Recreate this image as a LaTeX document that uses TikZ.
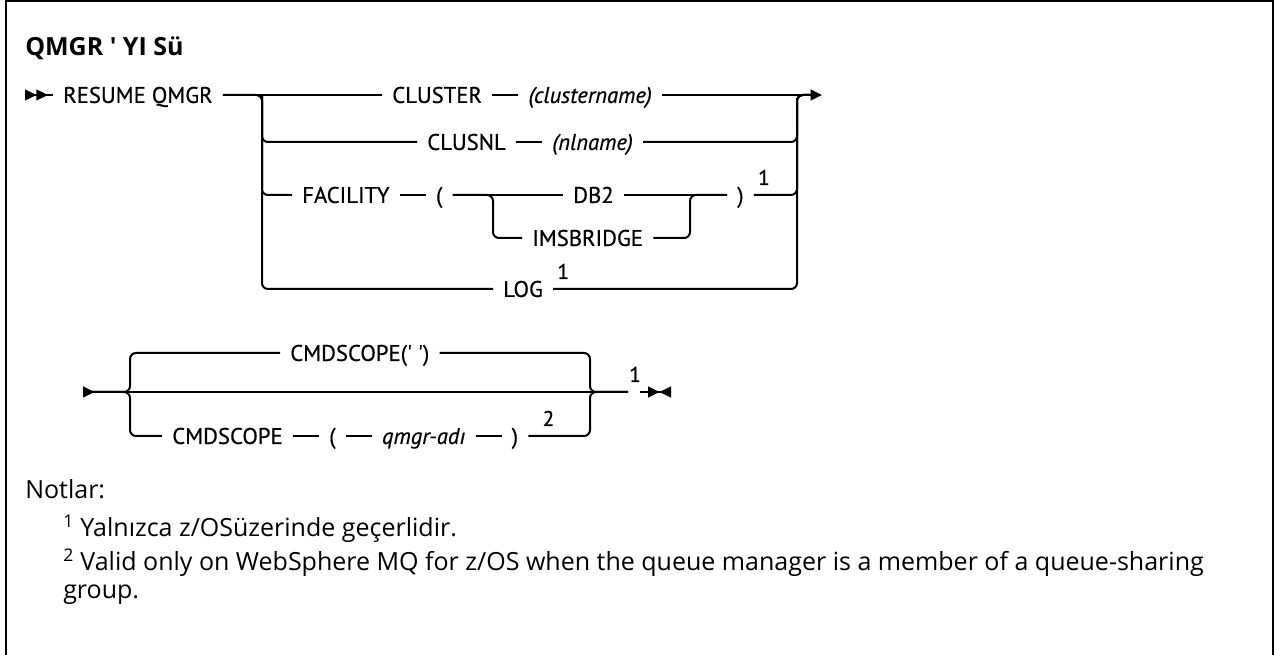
\documentclass[tikz,border=0pt]{standalone}
\usepackage{fontspec}
\setmainfont{Open Sans}
\newfontfamily\railfont[FakeBold=0.6]{PT Sans}
\usepackage{tikz}
\usetikzlibrary{arrows.meta,positioning,calc}
\newcommand{\railtext}{\railfont\fontsize{17pt}{20pt}\selectfont}
\newcommand{\marktext}{\railfont\fontsize{16pt}{18pt}\selectfont}
\newcommand{\notetext}{\fontsize{18.75pt}{22pt}\selectfont}
\tikzset{
  kw/.style={font=\railtext,inner xsep=7.5pt,inner ysep=0pt,text height=11.9pt,text depth=0pt,anchor=west},
  var/.style={kw,font=\railtext\itshape},
  fnote/.style={font=\marktext,inner sep=0pt,anchor=base west},
  note/.style={font=\notetext,inner sep=0pt,anchor=base west},
  rail/.style={line width=1.5pt},
  railr/.style={rail,rounded corners=4.5pt},
  golead/.style={{Triangle[reversed,length=8.6pt,width=8pt,sep=0pt]Triangle[reversed,length=8.6pt,width=8pt]}-},
  gonext/.style={{Triangle[reversed,length=8.6pt,width=8pt]}-},
  goon/.style={-{Triangle[length=8.6pt,width=8pt]}},
  gostop/.style={-{Triangle[length=8.6pt,width=8pt,sep=0pt]Triangle[reversed,length=8.6pt,width=8pt]}},
}
\begin{document}
\begin{tikzpicture}[x=0.75pt,y=-0.75pt]
\useasboundingbox (0,0) rectangle (1277,655);
% frame, open at the bottom
\draw[line width=1.5pt] (6,670) |- (1273,1) -- (1273,670);
\node[anchor=base west,inner sep=0pt,font=\notetext\bfseries] (title) at (25,56) {QMGR \textquotesingle{} YI Sü};

% first part
\coordinate (go) at (25,95);
\node[kw] (resume) at (53,95) {RESUME QMGR};
\coordinate (lb) at (262,95);
\coordinate (rj) at (797,95);
\coordinate (rjout) at (812,95);
\coordinate (fin) at (822,95);
\node[kw] (cluster) at (382,95) {CLUSTER};
\node[var,right=19.5pt of cluster] (clname) {(clustername)};
\node[kw] (clusnl) at (417,142) {CLUSNL};
\node[var,right=19.5pt of clusnl] (nlname) {(nlname)};
\node[kw] (facility) at (292,195) {FACILITY};
\node[kw,right=19.5pt of facility] (lpar) {(};
\coordinate (ib) at (493,195);
\coordinate (ij) at (690,195);
\node[kw] (db2) at (563,195) {DB2};
\node[kw] (imsb) at (522,238) {IMSBRIDGE};
\node[kw] (rpar) at (727,195) {)};
\node[fnote] (fn1a) at ($(rpar.east)+(4,-10)$) {1};
\node[kw] (log) at (493,289) {LOG};
\node[fnote] (fn1b) at ($(log.east)+(4,-10)$) {1};

\draw[rail,golead] (go) -- (resume.west);
\draw[rail] (resume.east) -- (cluster.west);
\draw[rail] (cluster) -- (clname);
\draw[rail,goon] (clname.east) -- (fin);
\draw[railr] (resume.east) -- (lb) |- (log.west);
\draw[railr] (lb) |- (clusnl.west);
\draw[railr] (lb) |- (facility.west);
\draw[rail] (clusnl) -- (nlname);
\draw[rail] (facility) -- (lpar);
\draw[rail] (lpar) -- (db2);
\draw[railr] (lpar.east) -- (ib) |- (imsb.west);
\draw[rail] (db2) -- (rpar);
\draw[railr] (imsb.east) -| (ij) -- (rpar.west);
\draw[railr] (nlname.east) -| (rj) -- (rjout);
\draw[railr] (rpar.east) -| (rj) -- (rjout);
\draw[railr] (log.east) -| (rj) -- (rjout);

% second part
\coordinate (go2) at (83,392);
\coordinate (bl) at (130,392);
\coordinate (br) at (590,392);
\coordinate (bend) at (628,392);
\coordinate (stub) at (640,392);
\coordinate (stop) at (671,392);
\node[kw] (cs1) at (280,353) {CMDSCOPE(\textquotesingle{} \textquotesingle)};
\node[kw] (cs2) at (162,436) {CMDSCOPE};
\node[kw,right=19.5pt of cs2] (lp2) {(};
\node[var,right=19.5pt of lp2] (qmgr) {qmgr-adı};
\node[kw,right=19.5pt of qmgr] (rp2) {)};
\node[fnote] (fn2) at ($(rp2.east)+(14,-10)$) {2};
\node[fnote] (fn1c) at (629,382) {1};

\draw[rail,gonext] (go2) -- (bend);
\draw[railr] (go2) -- (bl) |- (cs1.west);
\draw[railr] (go2) -- (bl) |- (cs2.west);
\draw[rail] (cs2) -- (lp2);
\draw[rail] (lp2) -- (qmgr);
\draw[rail] (qmgr) -- (rp2);
\draw[railr] (cs1.east) -| (br) -- (bend);
\draw[railr] (rp2.east) -| (br) -- (bend);
\draw[rail,gostop] (stub) -- (stop);

% notes
\node[note] (notlar) at (25,498) {Notlar:};
\node[note] (note1) at (63,536) {\textsuperscript{1} Yalnızca z/OSüzerinde geçerlidir.};
\node[note] (note2) at (63,570) {\textsuperscript{2} Valid only on WebSphere MQ for z/OS when the queue manager is a member of a queue-sharing};
\node[note] (note2b) at (63,598) {group.};
\end{tikzpicture}
\end{document}
